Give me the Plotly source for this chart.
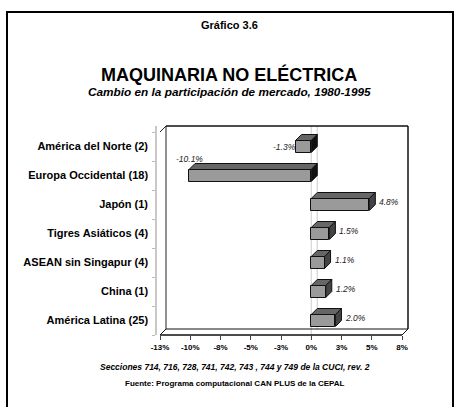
import plotly.graph_objects as go

# ---------------- data ----------------
categories = ["América del Norte (2)", "Europa Occidental (18)", "Japón (1)",
              "Tigres Asiáticos (4)", "ASEAN sin Singapur (4)", "China (1)",
              "América Latina (25)"]
values = [-1.3, -10.1, 4.8, 1.5, 1.1, 1.2, 2.0]
value_labels = ["-1.3%", "-10.1%", "4.8%", "1.5%", "1.1%", "1.2%", "2.0%"]
x_tickvals = [-12.5, -10, -7.5, -5, -2.5, 0, 2.5, 5, 7.5]
x_ticktext = ["-13%", "-10%", "-8%", "-5%", "-3%", "0%", "3%", "5%", "8%"]

title_top = "Gráfico 3.6"
title_main = "MAQUINARIA NO ELÉCTRICA"
subtitle = "Cambio en la participación de mercado, 1980-1995"
note = "Secciones 714, 716, 728, 741, 742, 743 , 744 y 749 de la CUCI, rev. 2"
source = "Fuente: Programa computacional CAN PLUS de la CEPAL"

# ---------------- geometry (pixels) ----------------
W, H = 455, 407
PL, PR, PT, PB = 157, 408, 126, 335          # plot area
FRONT_L = 160                                # front-plane left edge (x = -12.5)
DEPTH = 6                                    # 3-D depth in px
xmin, xmax = x_tickvals[0], x_tickvals[-1]
k = (PR - DEPTH - FRONT_L) / (xmax - xmin)   # px per %
n = len(categories)
cat_px = (PB - (PT + DEPTH)) / n             # px per category
dx = DEPTH / k
dy = DEPTH / cat_px
xr = [xmin - (FRONT_L - PL) / k, xmax + dx]
yr = [-0.5, n - 0.5 + dy]
bw = 12 / cat_px                             # bar thickness

pos = [n - 1 - i for i in range(n)]

FONT = "Liberation Sans, Arial, sans-serif"


def pxx(px):
    return (px - PL) / (PR - PL)


def pxy(py):
    return (PB - py) / (PB - PT)


def dxp(v):  # data x -> paper
    return (v - xr[0]) / (xr[1] - xr[0])


def dyp(v):  # data y -> paper
    return (v - yr[0]) / (yr[1] - yr[0])


fig = go.Figure()

# front faces
fig.add_trace(go.Bar(
    x=values, y=pos, orientation="h", width=bw, base=0,
    marker=dict(color="#9a9a9a", line=dict(color="#111111", width=1)),
    hoverinfo="skip", showlegend=False))

# top faces
tx, ty = [], []
for v, p in zip(values, pos):
    a, b = min(0, v), max(0, v)
    yt = p + bw / 2
    tx += [a, b, b + dx, a + dx, a, None]
    ty += [yt, yt, yt + dy, yt + dy, yt, None]
fig.add_trace(go.Scatter(x=tx, y=ty, mode="lines", fill="toself",
                         fillcolor="#666666", line=dict(color="#111111", width=1),
                         hoverinfo="skip", showlegend=False))

# side faces (positive / negative)
for sign, col in ((1, "#444444"), (-1, "#111111")):
    sx, sy = [], []
    for v, p in zip(values, pos):
        if (v >= 0) != (sign > 0):
            continue
        e = max(0, v)
        y0, y1 = p - bw / 2, p + bw / 2
        sx += [e, e, e + dx, e + dx, e, None]
        sy += [y0, y1, y1 + dy, y0 + dy, y0, None]
    fig.add_trace(go.Scatter(x=sx, y=sy, mode="lines", fill="toself",
                             fillcolor=col, line=dict(color="#111111", width=1),
                             hoverinfo="skip", showlegend=False))

shapes = []
# outer frame
shapes.append(dict(type="rect", xref="paper", yref="paper",
                   x0=pxx(7), x1=pxx(453), y0=pxy(12), y1=pxy(415),
                   line=dict(color="black", width=2), fillcolor="rgba(0,0,0,0)"))
# back wall
bl, br = dxp(xmin + dx), dxp(xmax + dx)
bt, bb = dyp(n - 0.5 + dy), dyp(-0.5 + dy)
fl, fr = dxp(xmin), dxp(xmax)
ft, fb = dyp(n - 0.5), dyp(-0.5)


def seg(x0, y0, x1, y1, color="black", width=1):
    return dict(type="line", xref="paper", yref="paper", x0=x0, y0=y0,
                x1=x1, y1=y1, line=dict(color=color, width=width), layer="below")


# zero gridlines
shapes.append(seg(dxp(dx), bb, dxp(dx), bt, "#d4d4d4", 1.2))
shapes.append(seg(dxp(0), pxy(340), dxp(0), bt, "#d4d4d4", 1.2))
# walls and floor
shapes += [
    seg(bl, bt, br, bt, "#111", 1.5),
    seg(br, bt, br, bb, "#111", 1.5),
    seg(bl, bt, bl, bb, "#222", 1),
    seg(fl, ft, bl, bt, "#222", 1),
    seg(bl, bb, br, bb, "#111", 1),
    seg(fl, fb, fr, fb, "#111", 1.5),
    seg(fl, fb, bl, bb, "#111", 1),
    seg(fr, fb, br, bb, "#111", 1),
]

ann = []


def txt(text, x, y, size, xanchor="center", yanchor="middle", color="black"):
    ann.append(dict(text=text, x=x, y=y, xref="paper", yref="paper",
                    xanchor=xanchor, yanchor=yanchor, showarrow=False,
                    font=dict(family=FONT, size=size, color=color)))


txt("<b>" + title_top + "</b>", pxx(229), pxy(25), 11)
txt("<b>" + title_main + "</b>", pxx(229), pxy(74), 18)
txt("<b><i>" + subtitle + "</i></b>", pxx(229), pxy(92), 11.8)
txt("<b><i>" + note + "</i></b>", pxx(235), pxy(367), 8.5)
txt("<b>" + source + "</b>", pxx(235), pxy(383), 8)

# data labels
for v, p, lab in zip(values, pos, value_labels):
    if v >= 0:
        ann.append(dict(text="<i>" + lab + "</i>", x=v + dx, y=p + dy / 2,
                        xanchor="left", yanchor="middle", xshift=2,
                        showarrow=False, font=dict(family=FONT, size=8.5, color="#222")))
    elif v > -5:
        ann.append(dict(text="<i>" + lab + "</i>", x=v, y=p,
                        xanchor="right", yanchor="middle", xshift=2,
                        showarrow=False, font=dict(family=FONT, size=8.5, color="#222")))
    else:
        ann.append(dict(text="<i>" + lab + "</i>", x=v, y=p + bw / 2 + dy,
                        xanchor="center", yanchor="bottom", yshift=-2,
                        showarrow=False, font=dict(family=FONT, size=8.5, color="#222")))

fig.update_layout(
    width=W, height=H,
    margin=dict(l=PL, r=W - PR, t=PT, b=H - PB, pad=0),
    paper_bgcolor="white", plot_bgcolor="rgba(0,0,0,0)",
    shapes=shapes, annotations=ann, showlegend=False,
    bargap=0,
    xaxis=dict(range=xr, tickvals=x_tickvals,
               ticktext=["<b>" + t + "</b>" for t in x_ticktext],
               ticks="outside", ticklen=4, tickcolor="#444", tickwidth=1,
               showgrid=False, zeroline=False, showline=False,
               tickfont=dict(family=FONT, size=8, color="black")),
    yaxis=dict(range=yr, tickvals=pos,
               ticktext=["<b>" + c + "</b>" for c in categories],
               ticks="", showgrid=False, zeroline=False,
               showline=True, linecolor="#c8c8c8", linewidth=1.5,
               ticklabelstandoff=5,
               minor=dict(ticks="outside", tick0=0.5, dtick=1, ticklen=3,
                          tickcolor="#bbbbbb", showgrid=False),
               tickfont=dict(family=FONT, size=11, color="black")),
)

fig.write_html("out.html", config={"displayModeBar": False},
               post_script="document.body.style.margin='0';document.body.style.overflow='hidden';")
